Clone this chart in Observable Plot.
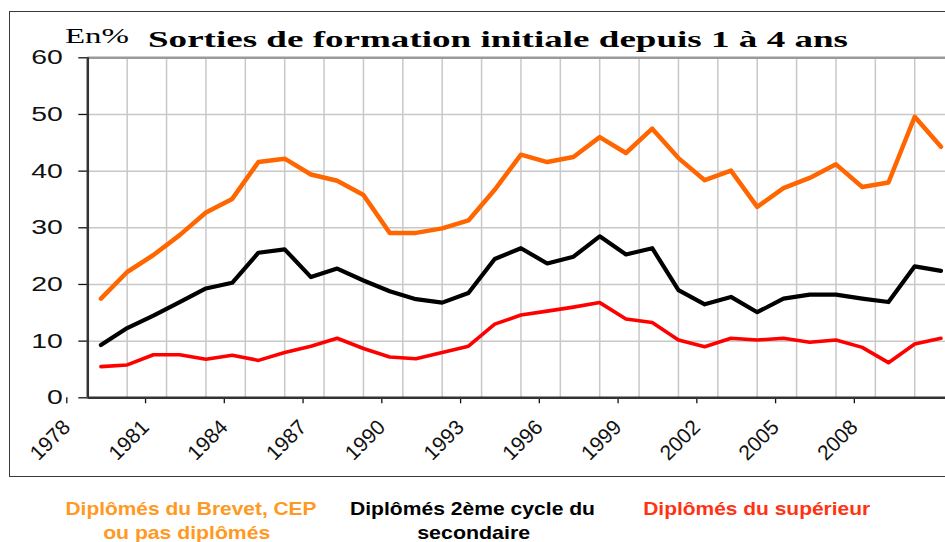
<!DOCTYPE html>
<html>
<head>
<meta charset="utf-8">
<script src="https://cdn.jsdelivr.net/npm/d3@7"></script>
<script src="https://cdn.jsdelivr.net/npm/@observablehq/plot@0.6"></script>
<style>
html,body{margin:0;padding:0;background:#fff;overflow:hidden;}
#wrap{position:relative;width:945px;height:542px;overflow:hidden;background:#fff;}
#frame{position:absolute;left:9px;top:11px;width:1000px;height:466px;border:1.5px solid #3a3a3a;box-sizing:border-box;}
#chart{position:absolute;left:0;top:0;width:960px;height:480px;}
#chart svg{max-width:none !important;}
#overlay{position:absolute;left:0;top:0;}
</style>
</head>
<body>
<div id="wrap"><div id="frame"></div><div id="chart"></div><svg id="overlay" width="945" height="542"></svg></div>
<script>
// ---- data ----
const years = [1978,1979,1980,1981,1982,1983,1984,1985,1986,1987,1988,1989,1990,1991,1992,1993,1994,1995,1996,1997,1998,1999,2000,2001,2002,2003,2004,2005,2006,2007,2008,2009,2010];
const brevet = [17.5,22.2,25.2,28.7,32.7,35.1,41.6,42.2,39.4,38.3,35.8,29.1,29.1,29.9,31.3,36.7,42.9,41.6,42.5,46.0,43.2,47.5,42.3,38.4,40.1,33.7,37.0,38.8,41.2,37.2,38.0,49.6,44.3];
const secondaire = [9.3,12.3,14.5,16.9,19.3,20.3,25.6,26.2,21.3,22.8,20.7,18.8,17.4,16.8,18.5,24.5,26.4,23.7,24.9,28.5,25.3,26.4,19.0,16.5,17.8,15.1,17.5,18.2,18.2,17.5,16.9,23.2,22.4];
const superieur = [5.5,5.8,7.6,7.6,6.8,7.5,6.6,8.0,9.1,10.5,8.7,7.2,6.9,8.0,9.1,13.0,14.6,15.3,16.0,16.8,13.9,13.3,10.2,9.0,10.5,10.2,10.5,9.8,10.2,8.9,6.2,9.5,10.5];
const yTicks = [0,10,20,30,40,50,60];
const xTickLabels = ["1978","1981","1984","1987","1990","1993","1996","1999","2002","2005","2008"];
const seriesNames = ["Diplômés du Brevet, CEP ou pas diplômés","Diplômés 2ème cycle du secondaire","Diplômés du supérieur"];
const seriesColors = ["#FF6600","#000000","#FF0000"];
const legendLines = [["Diplômés du Brevet, CEP","ou pas diplômés"],["Diplômés 2ème cycle du","secondaire"],["Diplômés du supérieur"]];
const legendColors = ["#FF9922","#000000","#FF3311"];
const titleText = "Sorties de formation initiale depuis 1 à 4 ans";
const unitText = "En%";

// ---- build table ----
const seriesValues = [brevet, secondaire, superieur];
const widths = [4.5, 4.2, 3.6];
const tables = seriesValues.map((vals, i) => years.map((y, j) => ({year: y, value: vals[j], series: seriesNames[i]})));

const x0 = years[0] - 0.5, x1 = years[years.length - 1] + 0.5;
const xTicks = xTickLabels.map(s => +s - 0.5);
const gridXs = d3.range(1, 22).map(k => x0 + 1.5 * k);

const plot = Plot.plot({
  width: 960, height: 480,
  marginLeft: 87.3, marginRight: 6.4, marginTop: 57.3, marginBottom: 82.7,
  x: {domain: [x0, x1]},
  y: {domain: [0, 60]},
  style: {fontFamily: "Arial, 'Liberation Sans', sans-serif", background: "transparent", maxWidth: "none"},
  marks: [
    Plot.gridX(gridXs, {stroke: "#c8c8c8", strokeOpacity: 1, strokeWidth: 1.5}),
    Plot.gridY([10,20,30,40,50], {stroke: "#c8c8c8", strokeOpacity: 1, strokeWidth: 1.5}),
    Plot.ruleY([60], {stroke: "#9a9a9a", strokeWidth: 2.5}),
    Plot.axisY(yTicks, {tickSize: 9, tickPadding: 16, fontSize: 20, color: "#111", strokeWidth: 1.3, label: null}),
    Plot.axisX(xTicks, {tickSize: 6, tickRotate: -45, textAnchor: "end", lineAnchor: "middle", tickPadding: 20, dx: -21, fontSize: 21, color: "#111", strokeWidth: 1.3, label: null, tickFormat: (d, i) => xTickLabels[i]}),
    ...tables.map((t, i) => Plot.line(t, {x: "year", y: "value", stroke: seriesColors[i], strokeWidth: widths[i], strokeLinejoin: "round", strokeLinecap: "round"})),
    Plot.ruleX([x0], {stroke: "#333", strokeWidth: 2.5}),
    Plot.ruleY([0], {stroke: "#333", strokeWidth: 2.5})
  ]
});

// stretch y tick labels horizontally like the reference
d3.select(plot).selectAll('g[aria-label="y-axis tick label"] text').each(function() {
  const t = this.textContent;
  this.setAttribute("textLength", 15.8 * t.length);
  this.setAttribute("lengthAdjust", "spacingAndGlyphs");
});
document.getElementById("chart").appendChild(plot);

// ---- titles and legend ----
const ov = d3.select("#overlay");
ov.append("text").attr("x", 65).attr("y", 43).attr("font-family", "'Liberation Serif', 'Times New Roman', serif")
  .attr("font-size", 21).attr("textLength", 64).attr("lengthAdjust", "spacingAndGlyphs").text(unitText);
ov.append("text").attr("x", 148).attr("y", 46.5).attr("font-family", "'Liberation Serif', 'Times New Roman', serif")
  .attr("font-weight", "bold").attr("font-size", 24).attr("textLength", 700).attr("lengthAdjust", "spacingAndGlyphs").text(titleText);

const legendPos = [
  [{cx: 191, y: 515, w: 251}, {cx: 186.7, y: 539, w: 167}],
  [{cx: 472.5, y: 515, w: 245}, {cx: 473.7, y: 539, w: 113}],
  [{cx: 756.7, y: 515, w: 227}]
];
legendLines.forEach((lines, i) => {
  lines.forEach((line, j) => {
    const p = legendPos[i][j];
    ov.append("text").attr("x", p.cx).attr("y", p.y).attr("text-anchor", "middle")
      .attr("font-family", "Arial, 'Liberation Sans', sans-serif").attr("font-weight", "bold").attr("font-size", 18.5)
      .attr("fill", legendColors[i]).attr("textLength", p.w).attr("lengthAdjust", "spacingAndGlyphs").text(line);
  });
});
</script>
</body>
</html>
